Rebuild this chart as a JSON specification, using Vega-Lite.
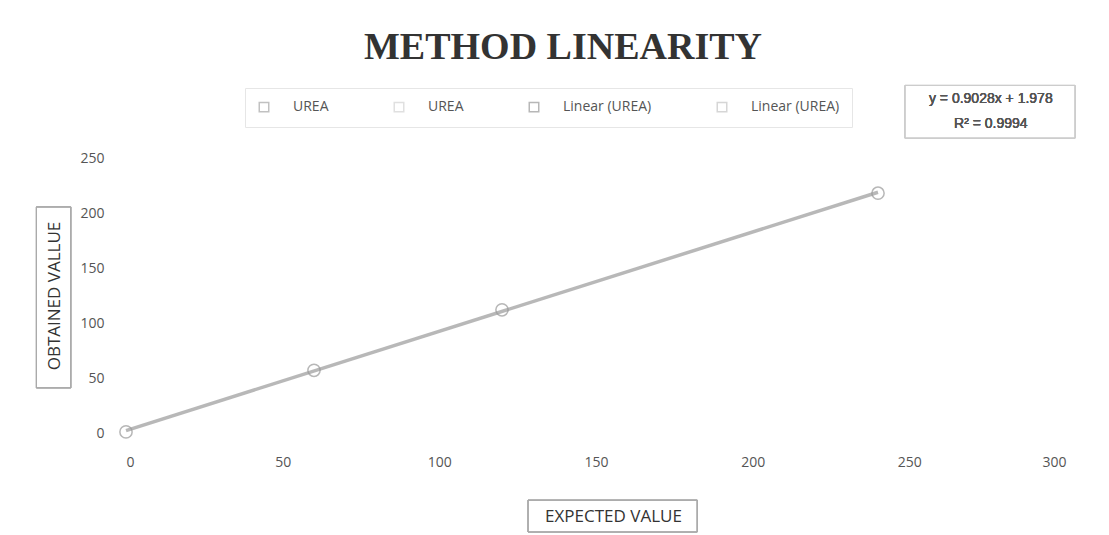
{
  "$schema": "https://vega.github.io/schema/vega-lite/v6.json",
  "width": 940,
  "height": 275,
  "autosize": {"type": "none"},
  "padding": {"left": 126, "top": 158, "right": 43, "bottom": 102},
  "background": "white",
  "title": {
    "text": "METHOD LINEARITY",
    "font": "Liberation Serif",
    "fontSize": 38,
    "fontWeight": "bold",
    "color": "#333333",
    "anchor": "middle",
    "dx": -33,
    "offset": 18
  },
  "config": {
    "view": {"stroke": null},
    "axis": {
      "labelFont": "Open Sans",
      "labelFontSize": 14,
      "labelColor": "#555555",
      "titleFont": "Open Sans",
      "titleFontSize": 17,
      "titleFontWeight": "normal",
      "titleColor": "#333333",
      "grid": false,
      "domain": false,
      "ticks": false
    }
  },
  "data": {
    "values": [
      {"expected": 0, "obtained": 1},
      {"expected": 60, "obtained": 57},
      {"expected": 120, "obtained": 112},
      {"expected": 240, "obtained": 218}
    ]
  },
  "encoding": {
    "x": {
      "field": "expected",
      "type": "quantitative",
      "scale": {"domain": [0, 300], "nice": false},
      "axis": {"values": [0, 50, 100, 150, 200, 250, 300], "title": "EXPECTED VALUE", "labelPadding": 22, "titlePadding": 39, "titleX": 487}
    },
    "y": {
      "field": "obtained",
      "type": "quantitative",
      "scale": {"domain": [0, 250], "nice": false},
      "axis": {"values": [0, 50, 100, 150, 200, 250], "title": "OBTAINED VALLUE", "labelPadding": 22, "titlePadding": 16}
    }
  },
  "layer": [
    {
      "mark": {"type": "rect", "fill": null, "filled": false, "stroke": "#cccccc", "strokeWidth": 1, "clip": false},
      "encoding": {
        "x": {"datum": 248.6},
        "x2": {"datum": 302.9},
        "y": {"datum": 316},
        "y2": {"datum": 268}
      }
    },
    {
      "mark": {"type": "rect", "fill": null, "filled": false, "stroke": "#aaaaaa", "strokeWidth": 1, "clip": false},
      "encoding": {
        "x": {"datum": 128.3},
        "x2": {"datum": 182.3},
        "y": {"datum": -61},
        "y2": {"datum": -90}
      }
    },
    {
      "mark": {"type": "rect", "fill": null, "filled": false, "stroke": "#aaaaaa", "strokeWidth": 1, "clip": false},
      "encoding": {
        "x": {"datum": -28.6},
        "x2": {"datum": -17.6},
        "y": {"datum": 205.5},
        "y2": {"datum": 41}
      }
    },
    {
      "transform": [
        {"regression": "obtained", "on": "expected", "extent": [0, 240]}
      ],
      "mark": {"type": "line", "strokeWidth": 3.5, "opacity": 0.6},
      "encoding": {
        "color": {"datum": "Linear (UREA)"}
      }
    },
    {
      "mark": {"type": "point", "size": 150, "strokeWidth": 1.5, "filled": false, "opacity": 0.7},
      "encoding": {
        "color": {
          "datum": "UREA",
          "scale": {
            "domain": ["UREA", "UREA ", "Linear (UREA)", "Linear (UREA) "],
            "range": ["#999999", "#cccccc", "#888888", "#bbbbbb"]
          },
          "legend": {
            "title": null,
            "orient": "none",
            "legendX": 119,
            "legendY": -70,
            "direction": "horizontal",
            "columns": 4,
            "columnPadding": 62,
            "padding": 12,
            "strokeColor": "#e6e6e6",
            "symbolType": "square",
            "symbolSize": 90,
            "symbolOpacity": 0.35,
            "labelFont": "Open Sans",
            "labelFontSize": 14,
            "labelColor": "#555555",
            "labelOffset": 22,
            "labelLimit": 200
          }
        }
      }
    },
    {
      "mark": {"type": "text", "font": "Liberation Sans", "fontSize": 14, "fontWeight": 400, "fill": "#555555", "align": "center", "clip": false},
      "encoding": {
        "x": {"datum": 276},
        "y": {"datum": 304},
        "text": {"value": "y = 0.9028x + 1.978"}
      }
    },
    {
      "mark": {"type": "text", "font": "Liberation Sans", "fontSize": 14, "fontWeight": 400, "fill": "#555555", "align": "center", "clip": false},
      "encoding": {
        "x": {"datum": 276},
        "y": {"datum": 281},
        "text": {"value": "R² = 0.9994"}
      }
    }
  ]
}
